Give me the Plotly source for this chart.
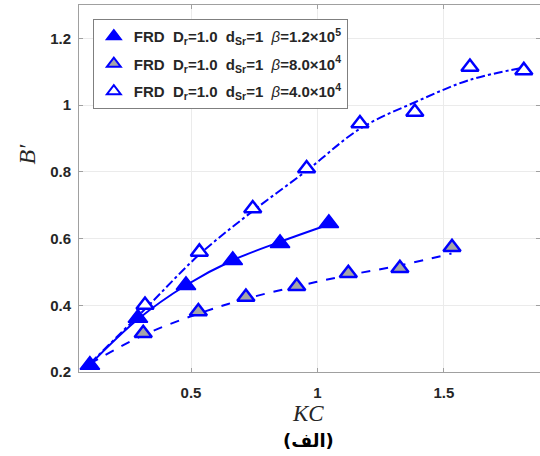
import plotly.graph_objects as go

# Measured points
kc_a = [0.10, 0.29, 0.48, 0.665, 0.852, 1.045]
b_a = [0.221, 0.362, 0.46, 0.535, 0.586, 0.646]

kc_b = [0.311, 0.529, 0.717, 0.918, 1.122, 1.326, 1.532]
b_b = [0.316, 0.381, 0.425, 0.457, 0.496, 0.511, 0.574]

kc_c = [0.318, 0.533, 0.744, 0.957, 1.168, 1.385, 1.603, 1.816]
b_c = [0.401, 0.560, 0.690, 0.810, 0.945, 0.979, 1.114, 1.104]

# Fitted curves
fit_x_a = [0.10, 0.29, 0.48, 0.665, 0.852, 1.045]
fit_y_a = [0.222, 0.358, 0.46, 0.535, 0.59, 0.642]
fit_x_b = [0.10, 0.31, 0.53, 0.72, 0.92, 1.12, 1.33, 1.53]
fit_y_b = [0.225, 0.31, 0.375, 0.42, 0.457, 0.49, 0.52, 0.555]
fit_x_c = [0.10, 0.32, 0.53, 0.74, 0.96, 1.17, 1.39, 1.60, 1.82]
fit_y_c = [0.225, 0.39, 0.55, 0.68, 0.805, 0.93, 1.01, 1.075, 1.113]

names = [
    "<b>FRD  D<sub>r</sub>=1.0  d<sub>Sr</sub>=1  </b><i>β</i><b>=1.2×10<sup>5</sup></b>",
    "<b>FRD  D<sub>r</sub>=1.0  d<sub>Sr</sub>=1  </b><i>β</i><b>=8.0×10<sup>4</sup></b>",
    "<b>FRD  D<sub>r</sub>=1.0  d<sub>Sr</sub>=1  </b><i>β</i><b>=4.0×10<sup>4</sup></b>",
]

blue = "#0000ff"
fig = go.Figure()

fig.add_trace(go.Scatter(x=fit_x_a, y=fit_y_a, mode="lines", line=dict(color=blue, width=2, shape="spline"), showlegend=False))
fig.add_trace(go.Scatter(x=fit_x_b, y=fit_y_b, mode="lines", line=dict(color=blue, width=2, dash="dash", shape="spline"), showlegend=False))
fig.add_trace(go.Scatter(x=fit_x_c, y=fit_y_c, mode="lines", line=dict(color=blue, width=2, dash="dashdot", shape="spline"), showlegend=False))

fig.add_trace(go.Scatter(x=kc_a, y=b_a, mode="markers", name=names[0], legendgroup="a",
                         marker=dict(symbol="triangle-up", size=17, color=blue, line=dict(color=blue, width=1.5))))
fig.add_trace(go.Scatter(x=kc_b, y=b_b, mode="markers", name=names[1], legendgroup="b",
                         marker=dict(symbol="triangle-up", size=15, color="#a6a6a6", line=dict(color=blue, width=2.5))))
fig.add_trace(go.Scatter(x=kc_c, y=b_c, mode="markers", name=names[2], legendgroup="c",
                         marker=dict(symbol="triangle-up", size=15, color="white", line=dict(color=blue, width=2.5))))

axis_common = dict(
    showgrid=True, gridcolor="#ebebeb", gridwidth=1,
    showline=True, linecolor="#a0a0a0", linewidth=1, mirror="ticks",
    ticks="inside", ticklen=4, tickcolor="#a0a0a0",
    tickfont=dict(family="Liberation Sans, Arial", size=15, color="#262626"),
    zeroline=False,
)

fig.update_layout(
    width=540, height=456,
    margin=dict(l=79, r=0, t=5, b=84),
    paper_bgcolor="white", plot_bgcolor="white",
    xaxis=dict(range=[0.057, 1.88], tickvals=[0.5, 1, 1.5], ticktext=["<b>0.5</b>", "<b>1</b>", "<b>1.5</b>"],
               ticklabelstandoff=7, **axis_common),
    yaxis=dict(range=[0.2, 1.3], tickvals=[0.2, 0.4, 0.6, 0.8, 1.0, 1.2],
               ticktext=["<b>0.2</b>", "<b>0.4</b>", "<b>0.6</b>", "<b>0.8</b>", "<b>1</b>", "<b>1.2</b>"],
               ticklabelstandoff=4, **axis_common),
    legend=dict(x=0.03, y=0.962, xanchor="left", yanchor="top",
                bgcolor="white", bordercolor="#7f7f7f", borderwidth=1,
                font=dict(family="Liberation Sans, Arial", size=15, color="#262626"),
                tracegroupgap=5, itemsizing="constant"),
    showlegend=True,
)

fig.add_annotation(xref="paper", yref="paper", x=-0.113, y=0.595, xanchor="center", yanchor="middle",
                   text="<i>B′</i>", showarrow=False,
                   textangle=-90, font=dict(family="Liberation Serif, Times New Roman", size=24, color="#262626"))
fig.add_annotation(xref="paper", yref="paper", x=0.497, y=-0.112, xanchor="center", yanchor="middle",
                   text="<i>KC</i>", showarrow=False,
                   font=dict(family="Liberation Serif, Times New Roman", size=23, color="#262626"))
fig.add_annotation(xref="paper", yref="paper", x=0.497, y=-0.188, xanchor="center", yanchor="middle",
                   text="<b>(الف)</b>", showarrow=False,
                   font=dict(family="DejaVu Sans, Noto Sans", size=18, color="black"))

fig.write_html("out.html", config={"displayModeBar": False},
               post_script="document.body.style.margin='0';")
